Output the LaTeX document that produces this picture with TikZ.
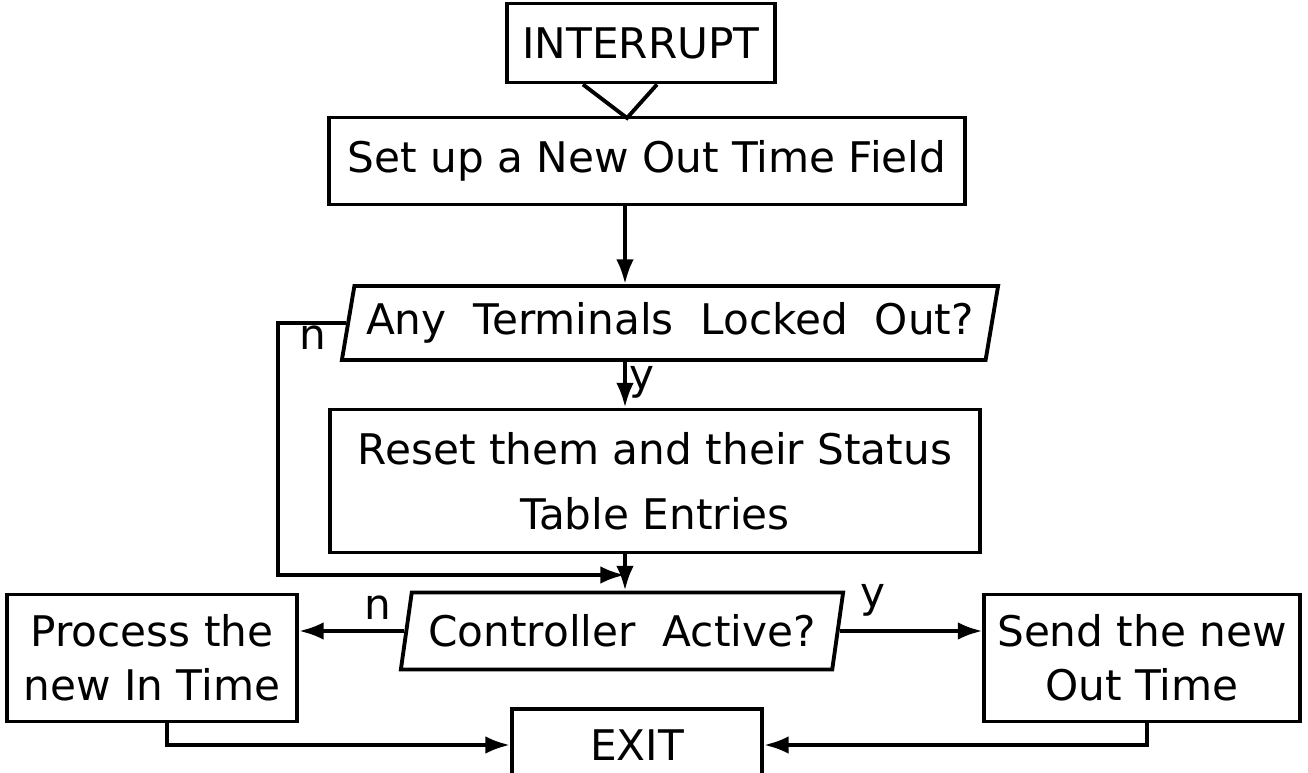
\documentclass[tikz,border=0pt]{standalone}
\usepackage{fontspec}
\setmainfont{DejaVu Sans}
\usetikzlibrary{shapes.geometric,arrows.meta}
\begin{document}
\begin{tikzpicture}[x=0.01cm,y=-0.01cm,line width=1.1pt,
  box/.style={draw,rectangle,align=center,font=\fontsize{12}{15.5}\selectfont},
  slant/.style={draw,trapezium,trapezium left angle=79,trapezium right angle=101,
    trapezium stretches body=true,font=\fontsize{12}{15.5}\selectfont},
  arr/.style={-{Latex[length=7pt,width=5pt]}},
  lbl/.style={font=\fontsize{12}{14}\selectfont}]
\useasboundingbox (0,0) rectangle (1308,773);
\node[box,minimum width=2.68cm,minimum height=0.79cm] (intr) at (641,43) {INTERRUPT};
\node[box,minimum width=6.35cm,minimum height=0.87cm] (setup) at (647,161) {Set up a New Out Time Field};
\node[slant,minimum width=6.45cm,minimum height=0.74cm] (any) at (670,323) {Any \ Terminals \ Locked \ Out?};
\node[box,minimum width=6.5cm,minimum height=1.43cm] (reset) at (655,481) {Reset them and their Status\\[3pt]Table Entries};
\node[slant,minimum width=4.42cm,minimum height=0.77cm] (ctrl) at (622,631) {Controller \ Active?};
\node[box,minimum width=2.9cm,minimum height=1.27cm] (proc) at (152,658) {Process the\\ new In Time};
\node[box,minimum width=3.15cm,minimum height=1.27cm] (send) at (1142,658) {Send the new\\ Out Time};
\node[box,minimum width=2.5cm,minimum height=0.72cm] (exit) at (637,745) {EXIT};
\coordinate (tip) at (627,118);
\coordinate (spine) at (625,0);
\coordinate (lp) at (278,575);
\coordinate (jn) at (625,575);
\draw ([xshift=-0.58cm]intr.south) -- (tip) -- ([xshift=0.16cm]intr.south);
\draw[arr] (setup.south -| spine) -- (any.north -| spine);
\draw[arr] (any.south -| spine) -- (reset.north -| spine);
\draw[arr] (reset.south -| spine) -- (ctrl.north -| spine);
\draw[arr] (any.west) -| (lp) -- (jn);
\draw[arr] (ctrl.west) -- (ctrl.west -| proc.east);
\draw[arr] (ctrl.east) -- (ctrl.east -| send.west);
\draw[arr] ([xshift=0.15cm]proc.south) |- (exit.west);
\draw[arr] ([xshift=0.05cm]send.south) |- (exit.east);
\node[lbl] (n1) at (313,338) {n};
\node[lbl] (y1) at (642,382) {y};
\node[lbl] (n2) at (378,608) {n};
\node[lbl] (y2) at (873,600) {y};
\end{tikzpicture}
\end{document}
